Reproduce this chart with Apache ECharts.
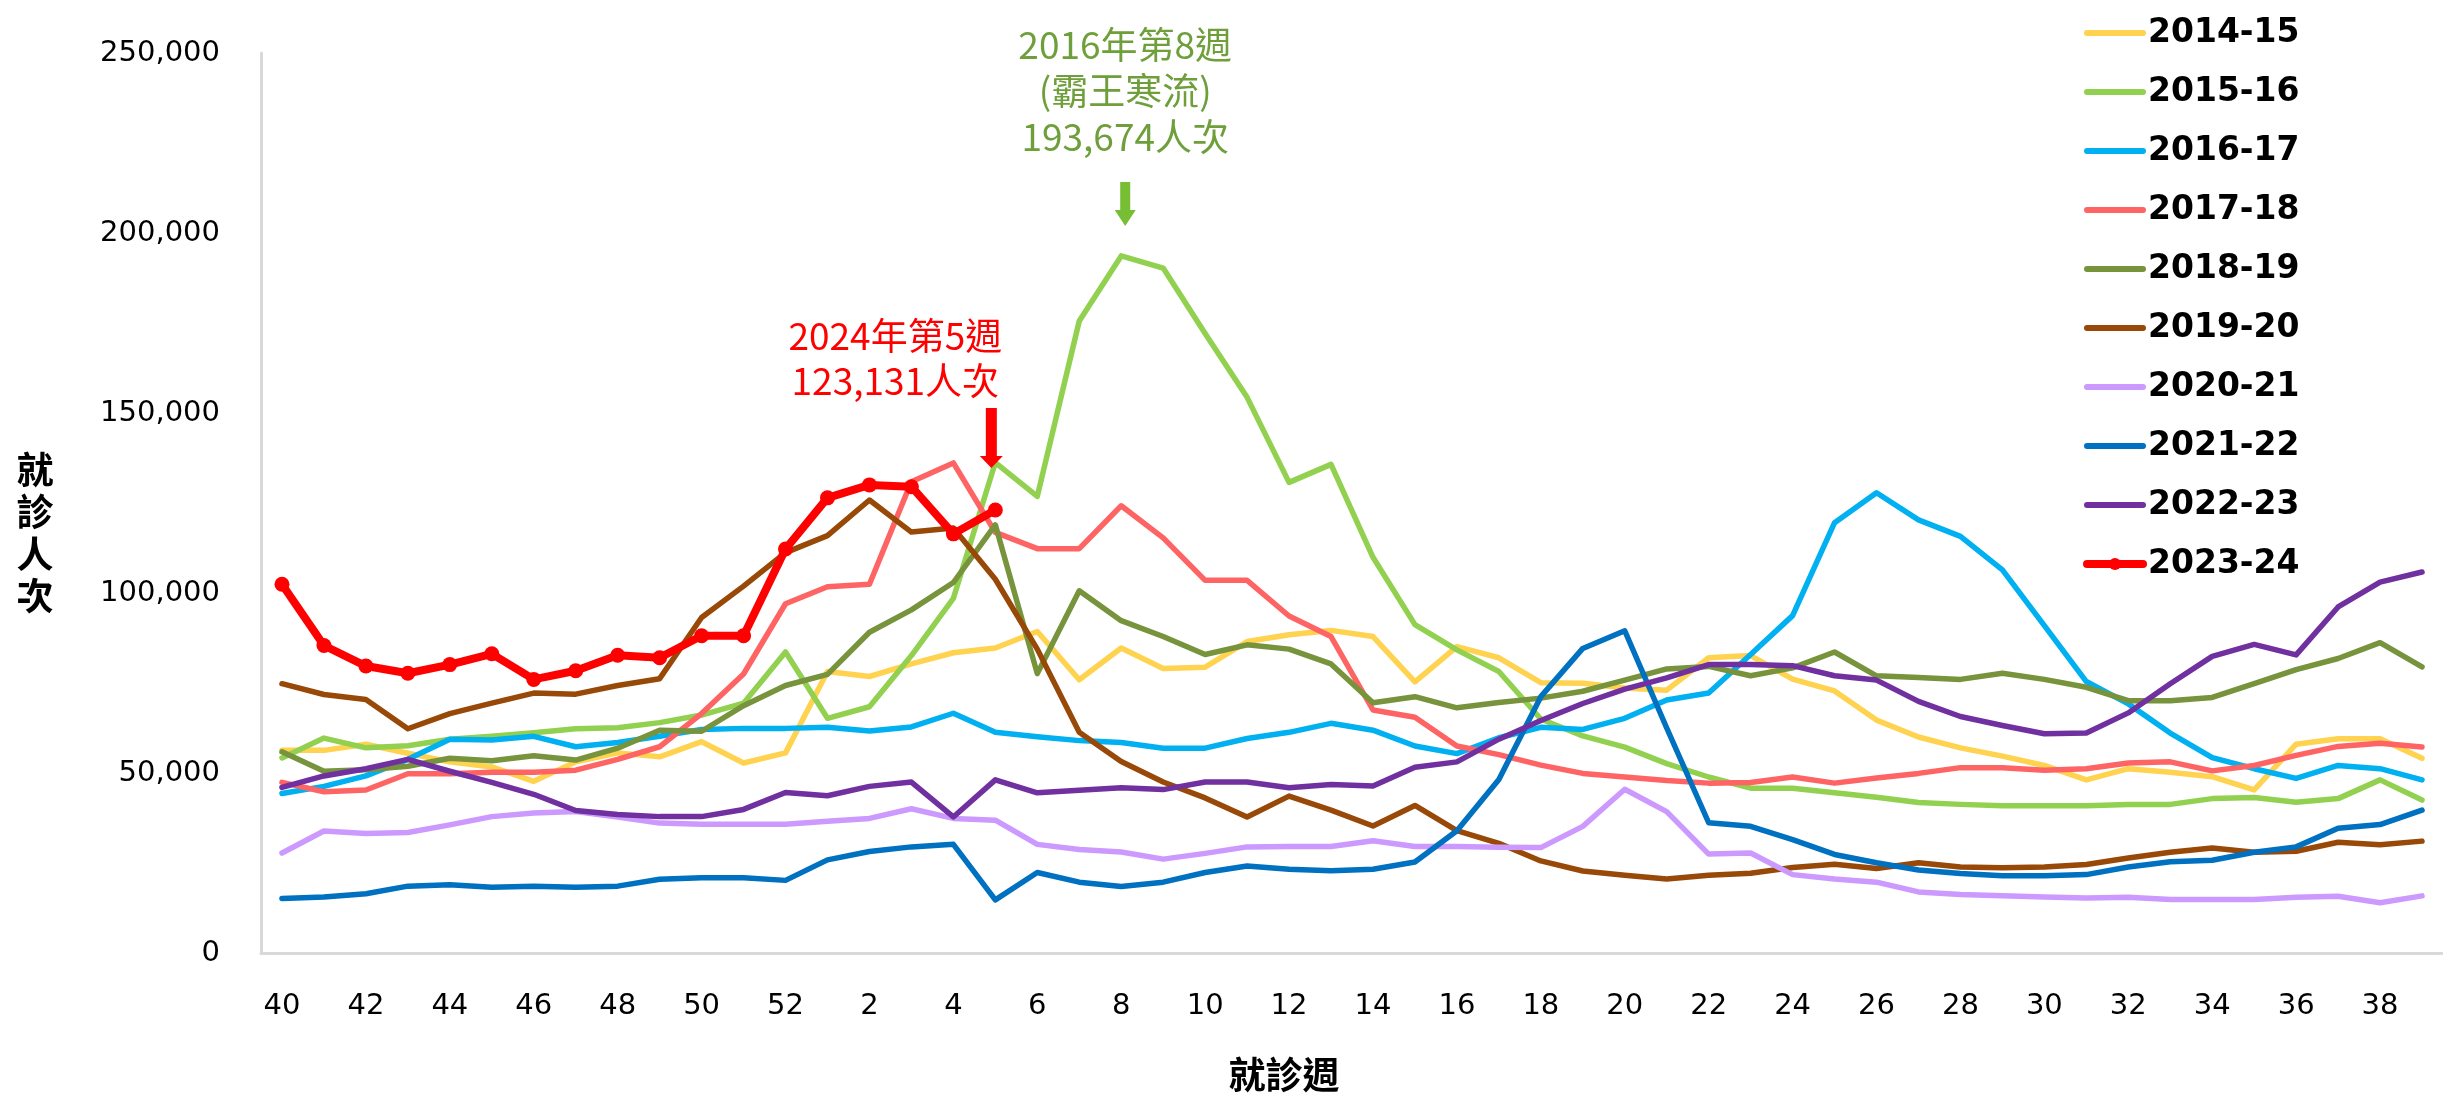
<!DOCTYPE html>
<html>
<head>
<meta charset="utf-8">
<title>就診人次</title>
<script src="https://cdn.jsdelivr.net/npm/echarts@6/dist/echarts.min.js"></script>
<style>
  html, body { margin: 0; padding: 0; background: #fff; }
  #chart { width: 2443px; height: 1099px; }
</style>
</head>
<body>
<div id="chart"></div>
<script>
// 就診週 (40 ~ 52, 1 ~ 39)
var weeks = ['40', '41', '42', '43', '44', '45', '46', '47', '48', '49', '50', '51', '52',
  '1', '2', '3', '4', '5', '6', '7', '8', '9', '10', '11', '12', '13', '14', '15', '16', '17',
  '18', '19', '20', '21', '22', '23', '24', '25', '26', '27', '28', '29', '30', '31', '32',
  '33', '34', '35', '36', '37', '38', '39'];

var seasons = ['2014-15', '2015-16', '2016-17', '2017-18', '2018-19',
  '2019-20', '2020-21', '2021-22', '2022-23', '2023-24'];

var s1415 = [56400, 56400, 58100, 55600, 53200, 51800, 47800, 53200, 55700, 54600, 58800, 52900, 55700, 78300,
  76900, 80400, 83500, 84800, 89400, 76000, 84800, 79100, 79500, 86600, 88500, 89700, 88000,
  75400, 85200, 82100, 75200, 75000, 73700, 73100, 82100, 82700, 76200, 72900, 64800, 60100,
  57100, 54800, 52200, 48200, 51300, 50300, 49100, 45400, 58100, 59600, 59600, 54200];
var s1516 = [54300, 59800, 57100, 57700, 59500, 60300, 61300, 62400, 62700, 64100, 66200, 69500, 83700, 65300,
  68500, 82700, 98600, 136300, 126900, 175600, 193674, 190300, 172100, 154400, 130800, 135800, 110000,
  91300, 84300, 78300, 65100, 60400, 57300, 52700, 49000, 45900, 45900, 44600, 43400, 41900,
  41400, 41000, 41000, 41000, 41400, 41400, 43000, 43300, 42000, 43000, 48200, 42600];
var s1617 = [44400, 46400, 49300, 53900, 59500, 59300, 60300, 57400, 58600, 60300, 62200, 62500, 62500, 62800,
  61800, 62900, 66700, 61400, 60200, 59100, 58600, 57000, 57000, 59700, 61400, 63900, 62000,
  57600, 55500, 59900, 62800, 62200, 65300, 70400, 72300, 83000, 93800, 119600, 127900, 120400,
  115800, 106500, 91000, 75500, 69300, 61200, 54400, 51300, 48600, 52200, 51300, 48200];
var s1718 = [47500, 44900, 45400, 49900, 49900, 50300, 50300, 50900, 53900, 57400, 66600, 77600, 97100, 101800,
  102500, 131000, 136200, 116900, 112400, 112400, 124300, 115400, 103600, 103600, 93700, 88000, 67600,
  65600, 57600, 55200, 52300, 50000, 49000, 48000, 47300, 47500, 49000, 47300, 48700, 50000,
  51600, 51600, 50900, 51300, 52900, 53200, 50700, 52200, 55000, 57500, 58400, 57300];
var s1819 = [56000, 50600, 51000, 52000, 54200, 53500, 54900, 53700, 57000, 62000, 61700, 68800, 74400, 77500,
  89200, 95400, 103000, 119000, 77700, 100700, 92400, 88000, 83000, 85700, 84500, 80400, 69600,
  71300, 68200, 69700, 70900, 72800, 75900, 79000, 79700, 77100, 79300, 83700, 77100, 76600,
  76100, 77800, 76100, 73900, 70200, 70200, 71100, 74900, 78800, 81900, 86300, 79600];
var s1920 = [74900, 71900, 70500, 62400, 66600, 69500, 72300, 72000, 74400, 76300, 93300, 102000, 111300, 116000,
  125900, 117000, 118100, 103900, 84500, 61400, 53300, 47600, 43200, 37900, 43700, 39800, 35400,
  41100, 34100, 30600, 25700, 22900, 21700, 20700, 21700, 22300, 23900, 24800, 23600, 25200,
  24000, 23800, 24000, 24700, 26500, 28100, 29300, 28100, 28400, 30900, 30200, 31200];
var s2021 = [27900, 34000, 33300, 33600, 35700, 38000, 39000, 39400, 37900, 36200, 35900, 35900, 35900, 36700,
  37500, 40200, 37500, 37000, 30300, 28900, 28200, 26200, 27800, 29600, 29700, 29700, 31300,
  29700, 29700, 29500, 29400, 35300, 45600, 39400, 27600, 27900, 21900, 20700, 19800, 17100,
  16400, 16000, 15700, 15400, 15600, 15000, 15000, 15000, 15600, 15900, 14100, 16000];
var s2122 = [15300, 15700, 16600, 18700, 19100, 18400, 18700, 18400, 18700, 20600, 21000, 21000, 20300, 26000,
  28300, 29600, 30300, 14900, 22500, 19800, 18600, 19800, 22500, 24300, 23400, 23000, 23400,
  25400, 34100, 48300, 71300, 84700, 89600, 62600, 36300, 35300, 31600, 27500, 25200, 23200,
  22200, 21600, 21600, 21900, 24000, 25500, 25900, 28100, 29600, 34800, 35800, 39800];
var s2223 = [46100, 49300, 51300, 53900, 50600, 47500, 44200, 39700, 38600, 38000, 38000, 40000, 44700, 43800,
  46400, 47600, 37900, 48200, 44600, 45300, 46000, 45500, 47600, 47600, 46000, 46900, 46500,
  51700, 53200, 59500, 64700, 69400, 73400, 76500, 80200, 80200, 79900, 77100, 75900, 70000,
  65800, 63300, 61000, 61200, 66800, 74900, 82500, 85800, 82900, 96200, 103100, 105900];
var s2324 = [102500, 85500, 79800, 77800, 80200, 83200, 76100, 78500, 82800, 82100, 88200, 88200, 112300, 126500,
  130100, 129600, 116500, 123131];

var values = [s1415, s1516, s1617, s1718, s1819, s1920, s2021, s2122, s2223, s2324];
var colors = ['#FFD24F', '#92D050', '#00B0F0', '#FF6464', '#77933C',
  '#984807', '#CC99FF', '#0070C0', '#7030A0', '#FF0000'];

var redArrow = 'path://M6,0L17,0L17,48L23,48L11.5,60L0,48L6,48Z';
var greenArrow = 'path://M5.5,0L15.5,0L15.5,28L21,28L10.5,44L0,28L5.5,28Z';
var cjk = '"Noto Sans CJK TC", "Noto Sans CJK SC", sans-serif';

var chart = echarts.init(document.getElementById('chart'));

var series = seasons.map(function (name, k) {
  var isNow = k === 9;
  var s = {
    name: name,
    type: 'line',
    data: values[k],
    symbol: isNow ? 'circle' : 'none',
    symbolSize: 15,
    z: 2 + k,
    itemStyle: { color: colors[k] },
    lineStyle: { color: colors[k], width: isNow ? 8 : 5.5, cap: 'round', join: 'round' }
  };
  if (name === '2015-16') {
    s.markPoint = {
      silent: true,
      data: [
        { coord: ['8', 193674], symbol: greenArrow, symbolSize: [21, 44], symbolOffset: [4, -52],
          itemStyle: { color: '#78BE35' }, label: { show: false } },
        { coord: ['8', 193674], symbol: 'circle', symbolSize: 0,
          label: { show: true, position: 'inside', offset: [4, -165],
            formatter: '2016年第8週\n(霸王寒流)\n193,674人次',
            color: '#6E9F3A', fontSize: 37, lineHeight: 46, fontFamily: cjk } }
      ]
    };
  }
  if (isNow) {
    s.markPoint = {
      silent: true,
      data: [
        { coord: ['5', 123131], symbol: redArrow, symbolSize: [23, 60], symbolOffset: [-4, -72],
          itemStyle: { color: '#FF0000' }, label: { show: false } },
        { coord: ['5', 123131], symbol: 'circle', symbolSize: 0,
          label: { show: true, position: 'inside', offset: [-100, -152],
            formatter: '2024年第5週\n123,131人次',
            color: '#FF0000', fontSize: 37, lineHeight: 45, fontFamily: cjk } }
      ]
    };
  }
  return s;
});

chart.setOption({
  animation: false,
  backgroundColor: '#fff',
  grid: { left: 261, top: 53, width: 2192, height: 900.5, containLabel: false },
  legend: {
    orient: 'vertical',
    left: 2078,
    top: 8,
    itemWidth: 56,
    itemHeight: 15,
    itemGap: 19,
    lineStyle: { width: 6, cap: 'round' },
    textStyle: { fontFamily: 'DejaVu Sans', fontWeight: 'bold', fontSize: 33, lineHeight: 40, color: '#000' },
    data: seasons.map(function (n, k) {
      // only the current season shows a marker in its legend icon
      return k === 9
        ? { name: n, lineStyle: { width: 8 } }
        : { name: n, itemStyle: { opacity: 0 } };
    })
  },
  xAxis: {
    type: 'category',
    data: weeks,
    boundaryGap: true,
    axisLine: { lineStyle: { color: '#D9D9D9', width: 3 } },
    axisTick: { show: false },
    axisLabel: { interval: 1, margin: 38, fontFamily: 'DejaVu Sans', fontSize: 29, color: '#000' },
    splitLine: { show: false }
  },
  yAxis: {
    type: 'value',
    min: 0,
    max: 250000,
    interval: 50000,
    axisLine: { show: true, lineStyle: { color: '#D9D9D9', width: 3 } },
    axisTick: { show: false },
    splitLine: { show: false },
    axisLabel: {
      margin: 41, fontFamily: 'DejaVu Sans', fontSize: 29, color: '#000',
      formatter: function (v) { return v.toLocaleString('en-US'); }
    }
  },
  graphic: [
    { type: 'text', x: 35, y: 533, style: { text: '就\n診\n人\n次', fill: '#000',
      font: 'bold 37px ' + cjk, lineHeight: 42, align: 'center', verticalAlign: 'middle' } },
    { type: 'text', x: 1284, y: 1075, style: { text: '就診週', fill: '#000',
      font: 'bold 37px ' + cjk, align: 'center', verticalAlign: 'middle' } }
  ],
  series: series
});
</script>
</body>
</html>
